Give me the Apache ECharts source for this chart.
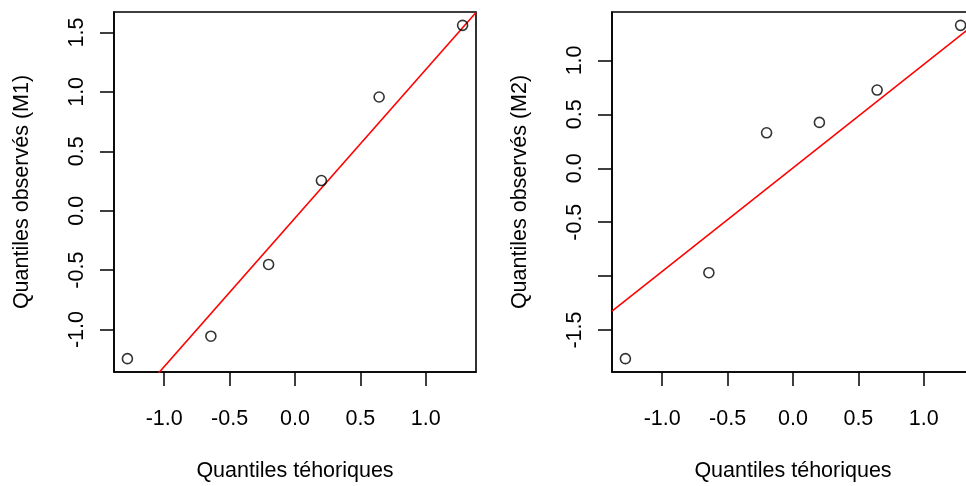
<!DOCTYPE html>
<html>
<head>
<meta charset="utf-8">
<script src="https://cdn.jsdelivr.net/npm/echarts@6/dist/echarts.min.js"></script>
<style>
  html, body { margin: 0; padding: 0; background: #fff; }
  #chart { width: 966px; height: 486px; }
</style>
</head>
<body>
<div id="chart"></div>
<script>
// Theoretical normal quantiles for n = 6 (shared by both panels)
const theoretical = [-1.2816, -0.6433, -0.2019, 0.2019, 0.6433, 1.2816];
// Observed (sorted) standardised values for each model
const observedM1 = [-1.245, -1.056, -0.452, 0.254, 0.957, 1.560];
const observedM2 = [-1.765, -0.968, 0.329, 0.425, 0.725, 1.325];
// Tick positions and labels
const xTicks = [-1.0, -0.5, 0.0, 0.5, 1.0];
const yTicksM1 = [-1.0, -0.5, 0.0, 0.5, 1.0, 1.5];
const yTicksM2 = [-1.5, -1.0, -0.5, 0.0, 0.5, 1.0];
const yLabelsM2 = [-1.5, -0.5, 0.0, 0.5, 1.0];

const xTitle = 'Quantiles téhoriques';
const yTitleM1 = 'Quantiles observés (M1)';
const yTitleM2 = 'Quantiles observés (M2)';

const FONT = 'Liberation Sans';
const FS = 21.5;

// Axis range padded by 4% on each side, as base graphics do
function padded(v) {
  const lo = Math.min(...v), hi = Math.max(...v), d = (hi - lo) * 0.04;
  return [lo - d, hi + d];
}
// Sample quantile (type 7)
function quantile(v, p) {
  const s = [...v].sort((a, b) => a - b);
  const h = (s.length - 1) * p, i = Math.floor(h);
  return s[i] + (h - i) * ((s[Math.min(i + 1, s.length - 1)]) - s[i]);
}
// Reference line through the first and third quartiles
function qqLine(y, xr) {
  const z = 0.6744897501960817;
  const q1 = quantile(y, 0.25), q3 = quantile(y, 0.75);
  const slope = (q3 - q1) / (2 * z);
  const inter = q1 + z * slope;
  return xr.map(x => [x, inter + slope * x]);
}

const xr = padded(theoretical);
const yr1 = padded(observedM1);
const yr2 = padded(observedM2);

function fmt(v) { return (Math.round(v * 10) / 10).toFixed(1); }

function xAxis(gi) {
  return {
    gridIndex: gi, type: 'value', min: xr[0], max: xr[1],
    name: xTitle, nameLocation: 'middle', nameGap: 88,
    nameTextStyle: { fontFamily: FONT, fontSize: FS, color: '#000' },
    axisLine: { show: true, onZero: false, lineStyle: { color: '#000', width: 1.5 } },
    axisTick: { show: true, length: 14, lineStyle: { color: '#000', width: 1.5 }, customValues: xTicks },
    axisLabel: { fontFamily: FONT, fontSize: FS, color: '#000', margin: 36, customValues: xTicks, formatter: fmt },
    splitLine: { show: false }
  };
}
function yAxis(gi, yr, ticks, labels, title) {
  return {
    gridIndex: gi, type: 'value', min: yr[0], max: yr[1],
    name: title, nameLocation: 'middle', nameGap: 81,
    nameTextStyle: { fontFamily: FONT, fontSize: FS, color: '#000' },
    axisLine: { show: true, onZero: false, lineStyle: { color: '#000', width: 1.5 } },
    axisTick: { show: true, length: 14, lineStyle: { color: '#000', width: 1.5 }, customValues: ticks },
    axisLabel: { fontFamily: FONT, fontSize: FS, color: '#000', margin: 26, rotate: 90, customValues: labels, formatter: fmt },
    splitLine: { show: false }
  };
}
function points(i, y) {
  return {
    type: 'scatter', xAxisIndex: i, yAxisIndex: i,
    data: theoretical.map((x, k) => [x, y[k]]),
    symbol: 'circle', symbolSize: 10,
    itemStyle: { color: 'rgba(0,0,0,0)', borderColor: '#000', borderWidth: 1.6 },
    silent: true, z: 3
  };
}
function refLine(i, y) {
  return {
    type: 'line', xAxisIndex: i, yAxisIndex: i,
    data: qqLine(y, xr), showSymbol: false, clip: true,
    lineStyle: { color: '#ff0000', width: 1.6 }, silent: true, z: 2
  };
}

const gridBase = {
  top: 12, bottom: 114, show: true, borderColor: '#000', borderWidth: 1.6,
  backgroundColor: 'transparent', containLabel: false, outerBoundsMode: 'none'
};

const chart = echarts.init(document.getElementById('chart'), null, { renderer: 'canvas' });
chart.setOption({
  animation: false,
  backgroundColor: '#fff',
  grid: [
    Object.assign({ left: 114, right: 490 }, gridBase),
    Object.assign({ left: 612, right: -8 }, gridBase)
  ],
  xAxis: [xAxis(0), xAxis(1)],
  yAxis: [
    yAxis(0, yr1, yTicksM1, yTicksM1, yTitleM1),
    yAxis(1, yr2, yTicksM2, yLabelsM2, yTitleM2)
  ],
  series: [refLine(0, observedM1), points(0, observedM1), refLine(1, observedM2), points(1, observedM2)]
});
</script>
</body>
</html>
